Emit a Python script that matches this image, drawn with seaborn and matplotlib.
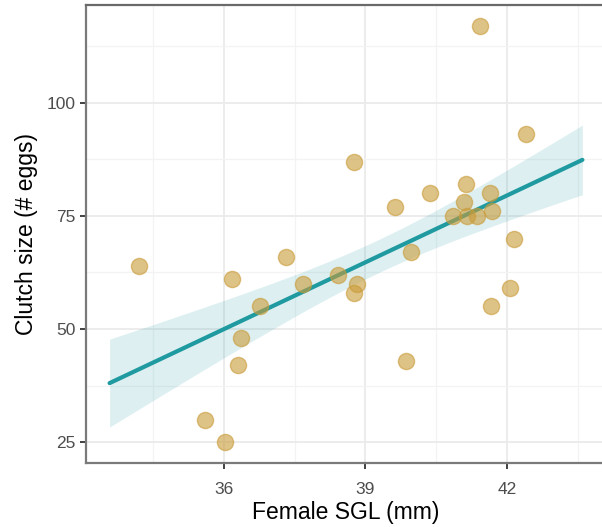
import numpy as np
import pandas as pd
import matplotlib
matplotlib.use("Agg")
import matplotlib.pyplot as plt
import seaborn as sns
from matplotlib.ticker import FixedLocator

# ---- data ----
sgl_mm = [34.20, 36.17, 36.37, 36.30, 35.61, 36.03, 36.76, 37.32, 37.67, 38.43,
          38.77, 38.76, 38.82, 39.63, 39.87, 39.97, 40.36, 40.85, 41.10, 41.14,
          41.15, 41.36, 41.43, 41.65, 41.68, 41.67, 42.06, 42.14, 42.40]
clutch_eggs = [64, 61, 48, 42, 30, 25, 55, 66, 60, 62,
               87, 58, 60, 77, 43, 67, 80, 75, 78, 82,
               75, 75, 117, 80, 76, 55, 59, 70, 93]
x_ticks = [36, 39, 42]
x_minor = [34.5, 37.5, 40.5, 43.5]
y_ticks = [25, 50, 75, 100]
y_minor = [37.5, 62.5, 87.5, 112.5]
fit_range = (33.58, 43.60)
x_limits = (33.08, 44.10)
y_limits = (20.4, 121.6)

line_col = "#1F9AA0"
pt_col = "#C99B38"

sns.set_theme(style="whitegrid")
plt.rcParams['font.family'] = ['Liberation Sans', 'DejaVu Sans']

fig = plt.figure(figsize=(6.02, 5.27), dpi=100)
ax = fig.add_axes([86/602, (527-463)/527, 520/602, 458/527])

df = pd.DataFrame({"sgl": sgl_mm, "clutch": clutch_eggs})
ax.set_xlim(*fit_range)
sns.regplot(data=df, x="sgl", y="clutch", ax=ax, truncate=False, ci=None,
            scatter_kws=dict(s=135, color=pt_col, alpha=0.6,
                             edgecolor=pt_col, linewidths=1.0, zorder=4),
            line_kws=dict(color=line_col, lw=3, zorder=3))

# analytic confidence band of the linear fit
x = np.asarray(sgl_mm, float)
y = np.asarray(clutch_eggs, float)
n = len(x)
b1, b0 = np.polyfit(x, y, 1)
resid = y - (b0 + b1 * x)
s = np.sqrt(np.sum(resid ** 2) / (n - 2))
xbar = x.mean()
sxx = np.sum((x - xbar) ** 2)
grid = np.linspace(fit_range[0], fit_range[1], 200)
fit = b0 + b1 * grid
t_crit = 1.3137  # t(0.90, df=27) -> 80% band
se = s * np.sqrt(1 / n + (grid - xbar) ** 2 / sxx)
ax.fill_between(grid, fit - t_crit * se, fit + t_crit * se,
                color=line_col, alpha=0.15, lw=0, zorder=2)

ax.set_xlim(*x_limits)
ax.set_ylim(*y_limits)

ax.xaxis.set_major_locator(FixedLocator(x_ticks))
ax.xaxis.set_minor_locator(FixedLocator(x_minor))
ax.yaxis.set_major_locator(FixedLocator(y_ticks))
ax.yaxis.set_minor_locator(FixedLocator(y_minor))
ax.set_facecolor("white")
ax.grid(which="major", color="#EBEBEB", lw=1.3, zorder=0)
ax.grid(which="minor", color="#F3F3F3", lw=0.9, zorder=0)
ax.set_axisbelow(True)

ax.tick_params(which="major", length=4.5, width=1.3, color="#333333",
               labelcolor="#4D4D4D", labelsize=12.5, pad=3,
               bottom=True, left=True)
ax.tick_params(axis="x", which="major", pad=9)
ax.tick_params(which="minor", length=0)

for side in ["left", "bottom"]:
    ax.spines[side].set_color("#7A7A7A")
    ax.spines[side].set_linewidth(1.6)
ax.spines["top"].set_color("#6A6A6A")
ax.spines["top"].set_linewidth(1.6)
ax.spines["right"].set_visible(False)

ax.set_xlabel("Female SGL (mm)", fontsize=16.5, color="black", labelpad=3)
ax.set_ylabel("Clutch size (# eggs)", fontsize=16.5, color="black", labelpad=6)

fig.savefig("out.png", dpi=100, facecolor="white")
